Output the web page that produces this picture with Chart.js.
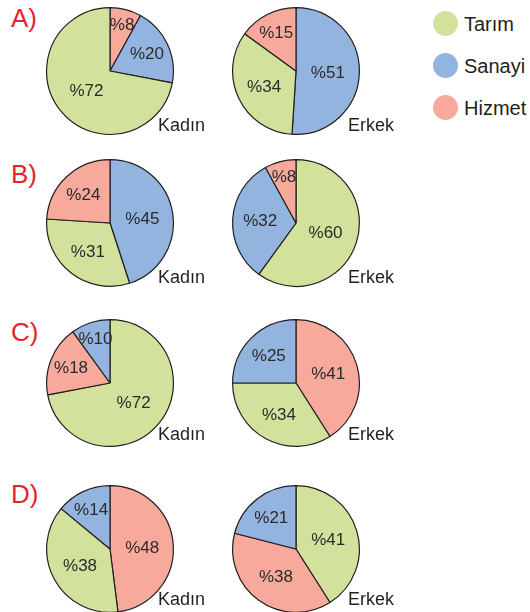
<!DOCTYPE html>
<html>
<head>
<meta charset="utf-8">
<script src="https://cdn.jsdelivr.net/npm/chart.js@4/dist/chart.umd.min.js"></script>
<style>
  body { margin: 0; background: #fff; width: 530px; height: 612px; overflow: hidden; position: relative;
         font-family: "Liberation Sans", Arial, sans-serif; }
  .pie { position: absolute; width: 130px; height: 130px; }
  .txt { position: absolute; white-space: nowrap; color: #231f20; }
  .letter { position: absolute; color: #e8232b; font-size: 26px; line-height: 26px; }
  .group { font-size: 18px; line-height: 18px; }
  .legend { font-size: 20px; line-height: 20px; }
  .dot { position: absolute; width: 25px; height: 25px; border-radius: 50%; }
</style>
</head>
<body>
<script>
// categories and colours
const categories = ["Tarım", "Sanayi", "Hizmet"];
const catColors = ["#d2e29c", "#93b4df", "#f7a99b"];
const choices = ["A)", "B)", "C)", "D)"];
const groups = ["Kadın", "Erkek"];

// values per choice, in category order [Tarım, Sanayi, Hizmet]
const kadinValues = [[72, 20, 8], [31, 45, 24], [72, 10, 18], [38, 14, 48]];
const erkekValues = [[34, 51, 15], [60, 32, 8], [34, 25, 41], [41, 21, 38]];

// slice order clockwise from the top (indices into categories)
const kadinOrder = [[2, 1, 0], [1, 0, 2], [0, 2, 1], [2, 0, 1]];
const erkekOrder = [[1, 0, 2], [0, 1, 2], [2, 0, 1], [0, 2, 1]];

// page layout
const colX = [110, 296];
const rowY = [70.7, 222.7, 383, 549.3];
const letterTop = [5, 161, 319, 481];
const groupBaseline = [131, 282.7, 440, 605];
const groupLeft = [158, 348];

// percentage labels inside the slices
const pctLabels = {
  id: "pctLabels",
  afterDatasetsDraw(chart) {
    const ctx = chart.ctx;
    const meta = chart.getDatasetMeta(0);
    const data = chart.data.datasets[0].data;
    const total = data.reduce((a, b) => a + b, 0);
    ctx.save();
    ctx.font = '17px "Liberation Sans", Arial, sans-serif';
    ctx.fillStyle = "#2b2b2b";
    ctx.textAlign = "center";
    ctx.textBaseline = "middle";
    meta.data.forEach((arc, i) => {
      const p = arc.getProps(["x", "y", "startAngle", "endAngle", "outerRadius"], true);
      const mid = (p.startAngle + p.endAngle) / 2;
      const f = data[i] / total;
      // small slices get their label further out
      const k = 0.48 + 0.4 * Math.pow(1 - f, 4);
      ctx.fillText("%" + data[i], p.x + Math.cos(mid) * p.outerRadius * k,
                   p.y + Math.sin(mid) * p.outerRadius * k + 1);
    });
    ctx.restore();
  }
};

function makePie(cx, cy, values, order) {
  const div = document.createElement("div");
  div.className = "pie";
  div.style.left = (cx - 65) + "px";
  div.style.top = (cy - 65) + "px";
  const canvas = document.createElement("canvas");
  div.appendChild(canvas);
  document.body.appendChild(div);

  new Chart(canvas, {
    type: "pie",
    data: {
      labels: order.map(i => categories[i]),
      datasets: [{
        data: order.map(i => values[i]),
        backgroundColor: order.map(i => catColors[i]),
        borderColor: "#231f20",
        borderWidth: 1.2
      }]
    },
    options: {
      responsive: true,
      maintainAspectRatio: false,
      animation: false,
      layout: { padding: 1 },
      plugins: { legend: { display: false }, tooltip: { enabled: false } }
    },
    plugins: [pctLabels]
  });
}

function addText(cls, text, left, top) {
  const el = document.createElement("div");
  el.className = cls;
  el.textContent = text;
  el.style.left = left + "px";
  el.style.top = top + "px";
  document.body.appendChild(el);
  return el;
}

choices.forEach((ch, r) => {
  makePie(colX[0], rowY[r], kadinValues[r], kadinOrder[r]);
  makePie(colX[1], rowY[r], erkekValues[r], erkekOrder[r]);
  addText("letter", ch, 11, letterTop[r]);
  groups.forEach((g, c) => {
    addText("txt group", g, groupLeft[c], groupBaseline[r] - 15.2);
  });
});

// legend
categories.forEach((cat, i) => {
  const cy = 23 + i * 42;
  const dot = document.createElement("div");
  dot.className = "dot";
  dot.style.left = (445.7 - 12.5) + "px";
  dot.style.top = (cy - 12.5) + "px";
  dot.style.background = catColors[i];
  document.body.appendChild(dot);
  addText("txt legend", cat, 464, cy + 7.5 - 16.9);
});
</script>
</body>
</html>
